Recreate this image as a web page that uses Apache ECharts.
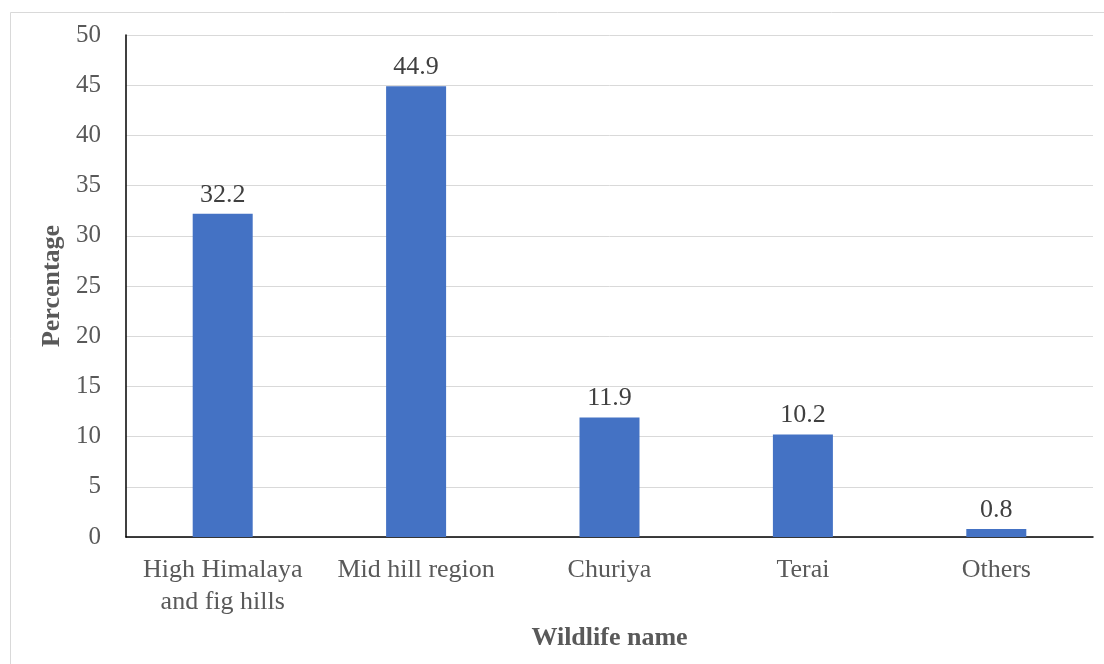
<!DOCTYPE html>
<html>
<head>
<meta charset="utf-8">
<script src="https://cdn.jsdelivr.net/npm/echarts@6/dist/echarts.min.js"></script>
<style>
  html, body { margin: 0; padding: 0; background: #fff; }
  #chart { width: 1104px; height: 664px; }
</style>
</head>
<body>
<div id="chart"></div>
<script>
// Share of wildlife by region (%)
const categories = ['High Himalaya\nand fig hills', 'Mid hill region', 'Churiya', 'Terai', 'Others'];
const percentages = [32.2, 44.9, 11.9, 10.2, 0.8];
const yTicks = { min: 0, max: 50, interval: 5 };

const FONT = '"Liberation Serif", "Times New Roman", serif';

const chart = echarts.init(document.getElementById('chart'), null, { renderer: 'canvas' });
chart.setOption({
  backgroundColor: '#ffffff',
  animation: false,
  graphic: [{
    type: 'rect',
    shape: { x: 10.5, y: 12.5, width: 1110, height: 670 },
    style: { fill: 'none', stroke: '#d9d9d9', lineWidth: 1 },
    silent: true,
    z: -1
  }],
  grid: { left: 126, top: 35, right: 11, bottom: 127 },
  xAxis: {
    type: 'category',
    data: categories,
    name: 'Wildlife name',
    nameLocation: 'middle',
    nameGap: 88,
    nameTextStyle: { fontFamily: FONT, fontSize: 26, fontWeight: 'bold', color: '#595959' },
    axisLine: { lineStyle: { color: '#000', width: 1.5 } },
    axisTick: { show: false },
    axisLabel: { fontFamily: FONT, fontSize: 26, color: '#595959', margin: 17, lineHeight: 32, interval: 0 }
  },
  yAxis: {
    type: 'value',
    min: yTicks.min,
    max: yTicks.max,
    interval: yTicks.interval,
    name: 'Percentage',
    nameLocation: 'middle',
    nameGap: 57,
    nameTextStyle: { fontFamily: FONT, fontSize: 26, fontWeight: 'bold', color: '#595959' },
    axisLine: { show: true, lineStyle: { color: '#000', width: 1.5 } },
    axisTick: { show: false },
    axisLabel: { fontFamily: FONT, fontSize: 25, color: '#595959', margin: 25 },
    splitLine: { lineStyle: { color: '#d9d9d9', width: 1 } }
  },
  series: [{
    type: 'bar',
    data: percentages,
    barWidth: 60,
    itemStyle: { color: '#4472c4' },
    label: {
      show: true,
      position: 'top',
      distance: 6,
      fontFamily: FONT,
      fontSize: 26,
      color: '#404040'
    }
  }]
});
</script>
</body>
</html>
